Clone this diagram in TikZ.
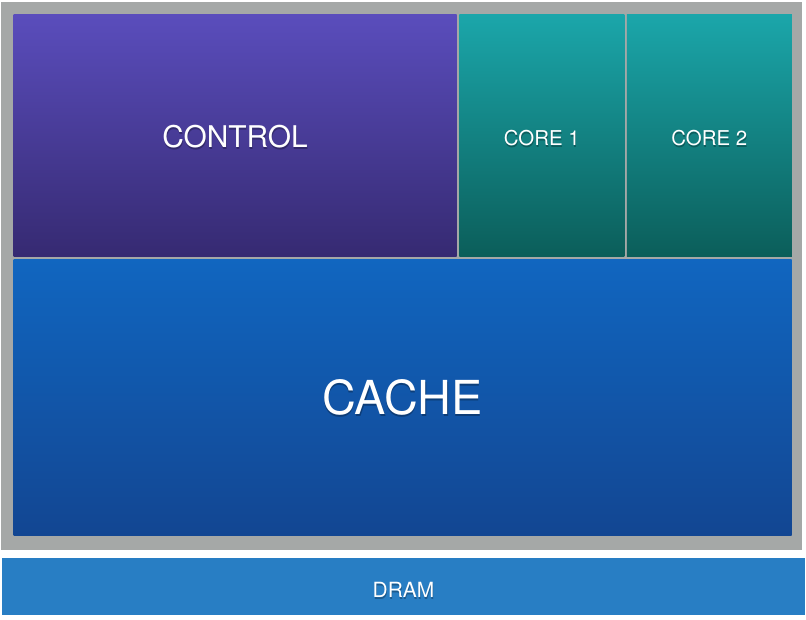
\documentclass[tikz,border=0pt]{standalone}
\usepackage{fontspec}
\setmainfont{TeX Gyre Heros}
\definecolor{framegray}{RGB}{165,168,167}
\definecolor{ctltop}{RGB}{90,77,188}
\definecolor{ctlbot}{RGB}{54,42,114}
\definecolor{coretop}{RGB}{27,166,170}
\definecolor{corebot}{RGB}{11,94,90}
\definecolor{cachetop}{RGB}{17,102,192}
\definecolor{cachebot}{RGB}{18,70,146}
\definecolor{dramblue}{RGB}{40,126,196}
\begin{document}
\begin{tikzpicture}[x=1bp,y=-1bp,
  blk/.style={draw=none,inner sep=0pt,outer sep=0pt,anchor=north west},
  lbl/.style={text=white,inner sep=0pt},
  shd/.style={text=black,opacity=0.28,inner sep=0pt}]
\useasboundingbox[fill=white] (0,0) rectangle (806,620);
\node[blk,fill=framegray,minimum width=801bp,minimum height=547.5bp] (frame) at (1,2) {};
\node[blk,top color=ctltop,bottom color=ctlbot,minimum width=443bp,minimum height=241bp] (control) at (13.5,15) {};
\node[blk,top color=coretop,bottom color=corebot,minimum width=165bp,minimum height=241bp] (core1) at (459.3,15) {};
\node[blk,top color=coretop,bottom color=corebot,minimum width=165bp,minimum height=241bp] (core2) at (626.8,15) {};
\node[blk,top color=cachetop,bottom color=cachebot,minimum width=778bp,minimum height=276bp] (cache) at (13.5,259) {};
\node[blk,fill=dramblue,minimum width=803bp,minimum height=57.5bp] (dram) at (2,557.7) {};
% text shadows
\node[shd,font=\fontsize{30}{36}\selectfont] (controlshd) at ([xshift=0.5bp,yshift=-3bp]control.center) {CONTROL};
\node[shd,font=\fontsize{20.5}{24}\selectfont] (core1shd) at ([xshift=0.5bp,yshift=-4.5bp]core1.center) {CORE 1};
\node[shd,font=\fontsize{20.5}{24}\selectfont] (core2shd) at ([xshift=0.5bp,yshift=-4.5bp]core2.center) {CORE 2};
\node[shd,font=\fontsize{47}{56}\selectfont] (cacheshd) at ([xshift=0.5bp,yshift=-2.5bp]cache.center) {CACHE};
\node[shd,font=\fontsize{21}{25}\selectfont] (dramshd) at ([xshift=0.5bp,yshift=-5bp]dram.center) {DRAM};
% labels
\node[lbl,font=\fontsize{30}{36}\selectfont] (controltxt) at ([yshift=-1bp]control.center) {CONTROL};
\node[lbl,font=\fontsize{20.5}{24}\selectfont] (core1txt) at ([yshift=-2.5bp]core1.center) {CORE 1};
\node[lbl,font=\fontsize{20.5}{24}\selectfont] (core2txt) at ([yshift=-2.5bp]core2.center) {CORE 2};
\node[lbl,font=\fontsize{47}{56}\selectfont] (cachetxt) at (cache.center) {CACHE};
\node[lbl,font=\fontsize{21}{25}\selectfont] (dramtxt) at ([yshift=-3.5bp]dram.center) {DRAM};
\end{tikzpicture}
\end{document}
